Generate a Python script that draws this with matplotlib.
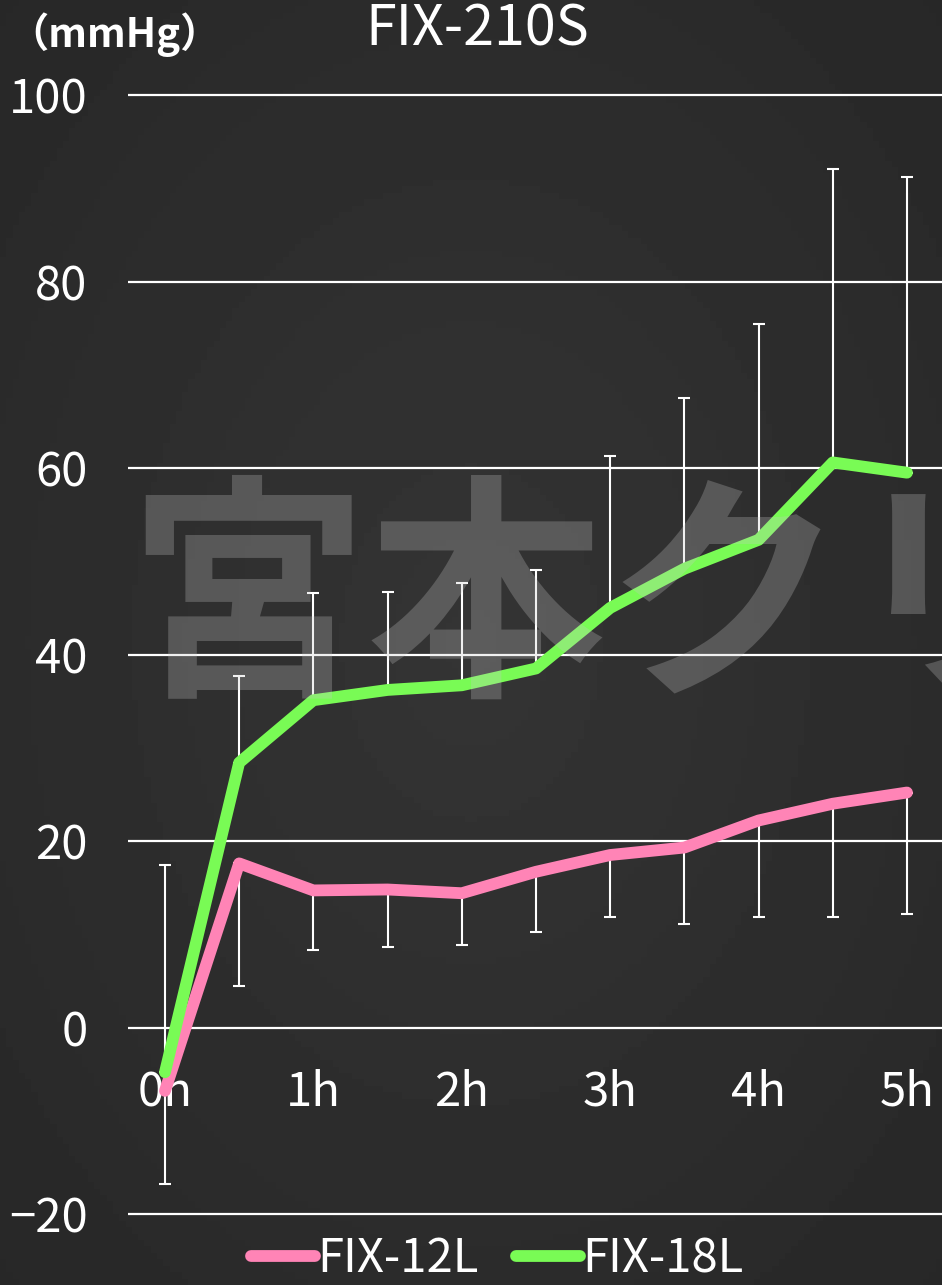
import numpy as np
import matplotlib
matplotlib.use("Agg")
import matplotlib.pyplot as plt

plt.rcParams['font.family'] = ['Noto Sans CJK JP', 'DejaVu Sans']

hours = [0, 0.5, 1, 1.5, 2, 2.5, 3, 3.5, 4, 4.5, 5]
tick_labels = ["0h", "1h", "2h", "3h", "4h", "5h"]

fix12l = [-6.8, 17.6, 14.7, 14.8, 14.4, 16.7, 18.5, 19.3, 22.2, 24.0, 25.2]
fix12l_sd = [10.0, 13.1, 6.4, 6.2, 5.6, 6.5, 6.7, 8.2, 10.3, 12.1, 13.0]

fix18l = [-4.8, 28.4, 35.1, 36.2, 36.7, 38.5, 45.0, 49.2, 52.3, 60.6, 59.5]
fix18l_sd = [22.2, 9.3, 11.5, 10.5, 11.0, 10.6, 16.3, 18.3, 23.1, 31.5, 31.7]

pink = "#ff84b6"
green = "#79fb55"

fig = plt.figure(figsize=(9.42, 12.85), dpi=100)
fig.patch.set_facecolor("#2e2e2e")

# chalkboard-ish background: soft radial shading
bg = fig.add_axes([0, 0, 1, 1], zorder=-10)
yy, xx = np.mgrid[-1:1:200j, -1:1:150j]
r = np.sqrt(xx**2 + yy**2)
bg.imshow(0.205 - 0.035 * r, cmap="gray", vmin=0, vmax=1, aspect="auto",
          extent=[0, 1, 0, 1])
bg.axis("off")

ax = fig.add_axes([0.1359, 0.0480, 0.8641, 0.8853])
ax.set_facecolor("none")

# error bars: FIX-18L upward, FIX-12L downward
ax.errorbar(hours, fix18l, yerr=[np.zeros(len(hours)), fix18l_sd], fmt="none",
            ecolor="white", elinewidth=1.5, capsize=4.3, capthick=1.5, zorder=2)
ax.errorbar(hours, fix12l, yerr=[fix12l_sd, np.zeros(len(hours))], fmt="none",
            ecolor="white", elinewidth=1.5, capsize=4.3, capthick=1.5, zorder=2)

ax.plot(hours, fix12l, color=pink, lw=8.5, solid_capstyle="round",
        solid_joinstyle="round", label="FIX-12L", zorder=3)
ax.plot(hours, fix18l, color=green, lw=8.5, solid_capstyle="round",
        solid_joinstyle="round", label="FIX-18L", zorder=3)

ax.set_xlim(-0.249, 5.236)
ax.set_ylim(-21, 101)
ax.set_yticks(range(-20, 101, 20))
ax.yaxis.grid(True, color="white", lw=1.6)
ax.set_axisbelow(True)
ax.set_xticks([])
ax.tick_params(axis="y", length=0, pad=29, labelsize=34, labelcolor="white")
for s in ax.spines.values():
    s.set_visible(False)

# hour labels sit just under the zero line
for i, lab in enumerate(tick_labels):
    ax.text(i, -8.4, lab, color="white", fontsize=34, ha="center",
            va="baseline", zorder=1)

fig.text(477 / 942, 1 - 45 / 1285, "FIX-210S", color="white", fontsize=40,
         ha="center", va="baseline")
fig.text(8 / 942, 1 - 47 / 1285, "（mmHg）", color="white", fontsize=29,
         fontweight="bold", ha="left", va="baseline")

# watermark, runs off the right edge like the original
fig.text(128 / 942, 1 - 678 / 1285, "宮本クリ", color="#c8c8c8",
         alpha=0.27, fontsize=172, fontweight="bold", ha="left",
         va="baseline", zorder=20)

leg = fig.legend(loc="center", bbox_to_anchor=(0.528, 1 - 1259 / 1285),
                 ncol=2, frameon=False, fontsize=34, handlelength=1.35,
                 handletextpad=0.05, columnspacing=0.8, borderpad=0)
for t in leg.get_texts():
    t.set_color("white")

fig.savefig("out.png", dpi=100, facecolor=fig.get_facecolor())
